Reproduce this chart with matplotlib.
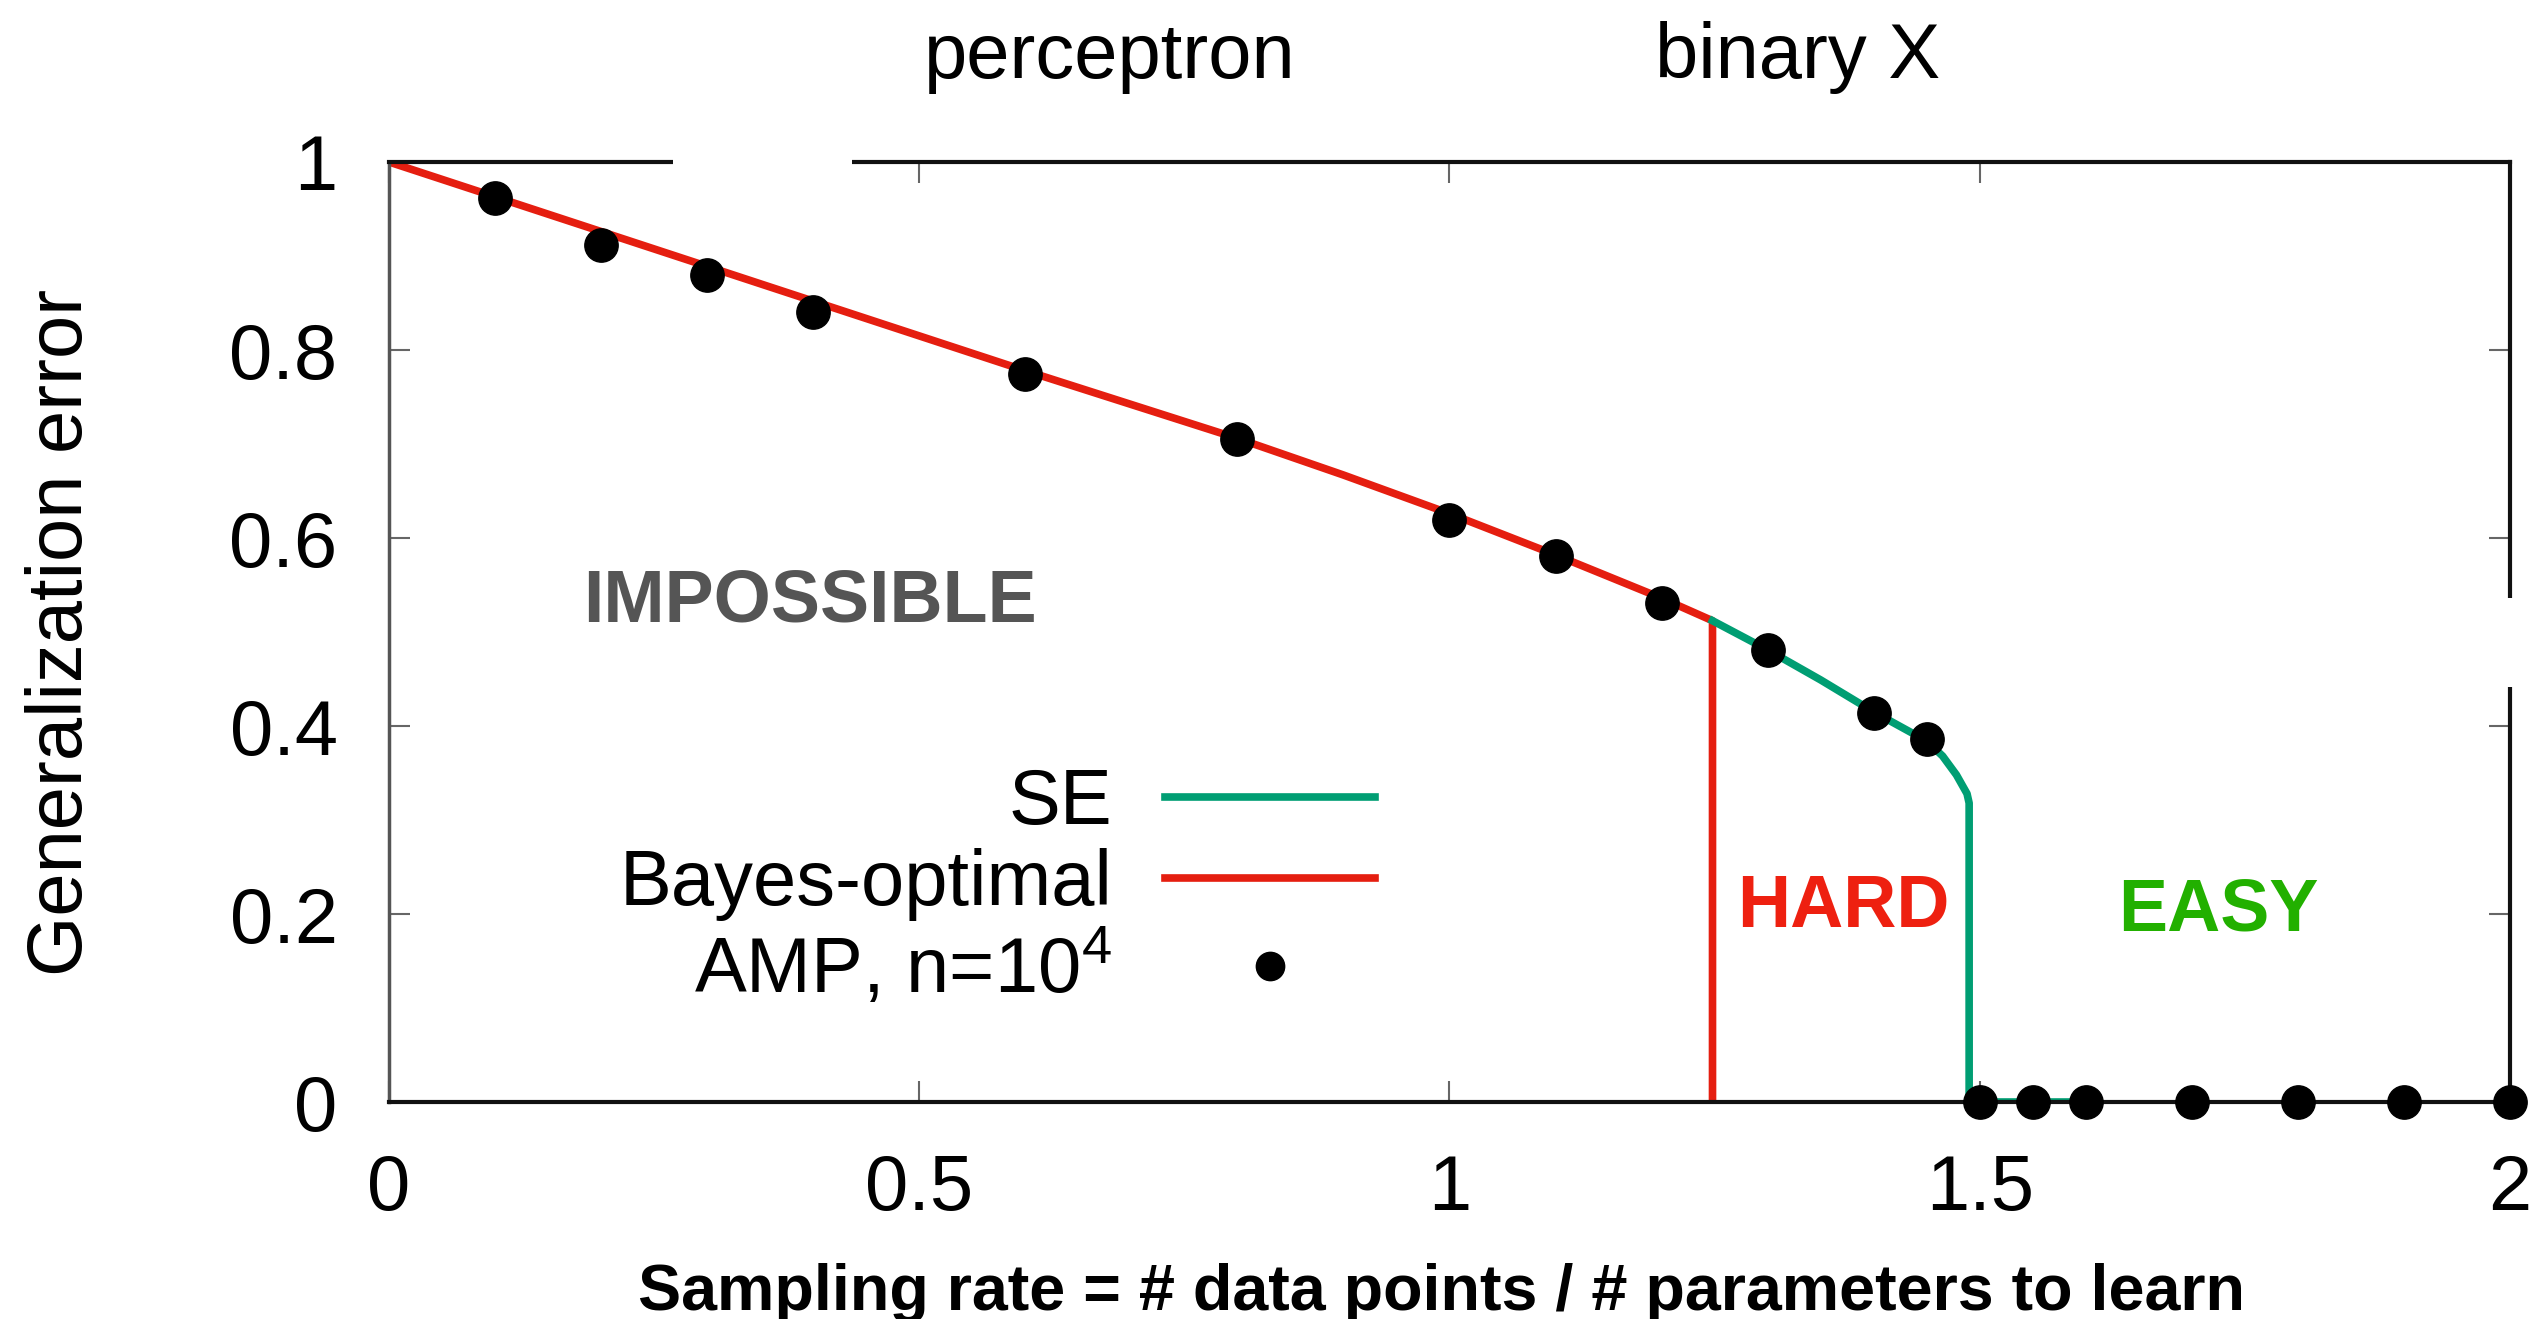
import numpy as np
import matplotlib
matplotlib.use("Agg")
import matplotlib.pyplot as plt
from matplotlib.patches import Rectangle

plt.rcParams['font.family'] = ['Liberation Sans', 'DejaVu Sans']
plt.rcParams['mathtext.fontset'] = 'custom'
plt.rcParams['mathtext.rm'] = 'Liberation Sans'
plt.rcParams['mathtext.it'] = 'Liberation Sans:italic'

# Bayes-optimal error (red)
bo_x = [0.0, 0.1, 0.2, 0.3, 0.4, 0.5, 0.6, 0.7, 0.8, 0.9, 1.0, 1.1, 1.2, 1.248, 1.248]
bo_y = [1.0, 0.963, 0.926, 0.889, 0.852, 0.815, 0.778, 0.742, 0.706, 0.667, 0.626, 0.582, 0.536, 0.512, 0.0]

# state evolution (green)
se_x = [1.248, 1.3, 1.35, 1.4, 1.45, 1.465, 1.478, 1.488, 1.49, 1.49, 1.6]
se_y = [0.512, 0.481, 0.449, 0.415, 0.384, 0.368, 0.348, 0.328, 0.318, 0.0, 0.0]

# AMP simulations, n=10^4
amp_x = [0.1, 0.2, 0.3, 0.4, 0.6, 0.8, 1.0, 1.1, 1.2, 1.3, 1.4, 1.45,
         1.5, 1.55, 1.6, 1.7, 1.8, 1.9, 2.0]
amp_y = [0.962, 0.912, 0.880, 0.840, 0.774, 0.705, 0.619, 0.581, 0.531, 0.481, 0.414, 0.386,
         0.0, 0.0, 0.0, 0.0, 0.0, 0.0, 0.0]

xticks = [0, 0.5, 1, 1.5, 2]
xticklabels = ["0", "0.5", "1", "1.5", "2"]
yticks = [0, 0.2, 0.4, 0.6, 0.8, 1]
yticklabels = ["0", "0.2", "0.4", "0.6", "0.8", "1"]

red = "#e51e10"
green = "#009e73"

W, H = 2542, 1319
fig = plt.figure(figsize=(W / 100, H / 100), dpi=100)
ax = fig.add_axes([389 / W, 1 - 1102 / H, 2121 / W, 940 / H])

l_bo, = ax.plot(bo_x, bo_y, color=red, lw=5.5, zorder=2, label="Bayes-optimal")
l_se, = ax.plot(se_x, se_y, color=green, lw=5.5, zorder=2.1, label="SE")
l_amp, = ax.plot(amp_x, amp_y, "o", color="black", ms=24, ls="none", zorder=4,
                 clip_on=False, label="AMP, n=10$^4$")

ax.set_xlim(0, 2)
ax.set_ylim(0, 1)
ax.set_xticks(xticks)
ax.set_xticklabels(xticklabels)
ax.set_yticks(yticks)
ax.set_yticklabels(yticklabels)
ax.tick_params(direction="in", length=15, width=1.5, color="#666666",
               labelsize=56, pad=37, top=True, right=True)

for side in ["top", "bottom", "right"]:
    ax.spines[side].set_linewidth(3)
    ax.spines[side].set_color("#111111")
ax.spines["left"].set_linewidth(2.5)
ax.spines["left"].set_color("#555555")

# erased bits of the frame
ax.add_patch(Rectangle((0.268, 0.985), 0.169, 0.03, transform=ax.get_xaxis_transform(),
                       facecolor="white", edgecolor="none", clip_on=False, zorder=5))
ax.add_patch(Rectangle((0.985, 0.441), 0.03, 0.095, transform=ax.get_yaxis_transform(),
                       facecolor="white", edgecolor="none", clip_on=False, zorder=5))

leg = ax.legend([l_se, l_bo, l_amp], ["SE", "Bayes-optimal", "AMP, n=10$^4$"],
                loc="upper right", bbox_to_anchor=(0.4649, 0.356), frameon=False,
                fontsize=56, markerfirst=False, handlelength=2.7, handletextpad=0.68,
                labelspacing=0.1, borderpad=0, borderaxespad=0, markerscale=0.85)
for col in leg._legend_handle_box.get_children():
    col.align = "right"

ax.text(0.397, 0.532, "IMPOSSIBLE", color="#555555", fontsize=53, fontweight="bold",
        ha="center", va="center")
ax.text(1.371, 0.207, "HARD", color="#ee2010", fontsize=53, fontweight="bold",
        ha="center", va="center")
ax.text(1.725, 0.202, "EASY", color="#22b000", fontsize=53, fontweight="bold",
        ha="center", va="center")

fig.text(1110 / W, 1 - 78 / H, "perceptron", fontsize=56, ha="center", va="baseline")
fig.text(1798 / W, 1 - 78 / H, "binary X", fontsize=56, ha="center", va="baseline")
fig.text(62 / W, 1 - 632 / H, "Generalization error", fontsize=56, rotation=90,
         ha="center", va="center")
fig.text(1442 / W, 1 - 1310 / H, "Sampling rate = # data points / # parameters to learn",
         fontsize=46.5, fontweight="bold", ha="center", va="baseline")

fig.savefig("out.png", dpi=100)
